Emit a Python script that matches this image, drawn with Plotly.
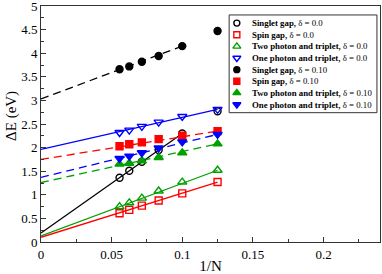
import plotly.graph_objects as go

# ---------------- data ----------------
inv_N = [0.0556, 0.0625, 0.0714, 0.0833, 0.1, 0.125]

singlet_d0 = [1.36, 1.51, 1.70, 1.95, 2.30, 2.77]
spin_d0 = [0.61, 0.68, 0.77, 0.88, 1.03, 1.27]
two_photon_d0 = [0.75, 0.83, 0.93, 1.08, 1.27, 1.52]
one_photon_d0 = [2.32, 2.37, 2.45, 2.54, 2.66, 2.81]

singlet_d10 = [3.66, 3.72, 3.82, 3.94, 4.15, 4.47]
spin_d10 = [2.03, 2.07, 2.11, 2.18, 2.25, 2.35]
two_photon_d10 = [1.65, 1.67, 1.72, 1.79, 1.89, 2.08]
one_photon_d10 = [1.77, 1.82, 1.89, 1.99, 2.12, 2.28]

# extrapolated values at 1/N -> 0
extrap = [0.19, 0.10, 0.13, 1.96, 3.03, 1.75, 1.26, 1.37]
# index of last point included in the extrapolation line
fit_end = [4, 5, 5, 5, 4, 5, 5, 5]

labels = [
    "<b>Singlet gap,</b> δ = 0.0",
    "<b>Spin gap,</b> δ = 0.0",
    "<b>Two photon and triplet,</b> δ = 0.0",
    "<b>One photon and triplet,</b> δ = 0.0",
    "<b>Singlet gap,</b> δ = 0.10",
    "<b>Spin gap,</b> δ = 0.10",
    "<b>Two photon and triplet,</b> δ = 0.10",
    "<b>One photon and triplet,</b> δ = 0.10",
]
series = [singlet_d0, spin_d0, two_photon_d0, one_photon_d0,
          singlet_d10, spin_d10, two_photon_d10, one_photon_d10]

# ---------------- styles ----------------
GREEN = "#00a000"
colors = ["black", "red", GREEN, "blue", "black", "red", GREEN, "blue"]
symbols = ["circle-open", "square-open", "triangle-up-open", "triangle-down-open",
           "circle", "square", "triangle-up", "triangle-down"]
sizes = [7, 7, 8, 8, 7, 7, 8, 8]
dashes = ["solid"] * 4 + ["8px,5px"] * 4
FONT = "Liberation Serif, Times New Roman, serif"

fig = go.Figure()

for i, ys in enumerate(series):
    e = fit_end[i]
    fig.add_trace(go.Scatter(
        x=[0, inv_N[e]], y=[extrap[i], ys[e]], mode="lines",
        line=dict(color=colors[i], width=1.3, dash=dashes[i]),
        showlegend=False, hoverinfo="skip"))

for i, ys in enumerate(series):
    fig.add_trace(go.Scatter(
        x=inv_N, y=ys, mode="markers",
        marker=dict(symbol=symbols[i], size=sizes[i], color=colors[i],
                    line=dict(color=colors[i], width=1.4)),
        showlegend=False))

# ---------------- custom legend (overlay axes) ----------------
rows = list(range(len(labels)))
for i in rows:
    fig.add_trace(go.Scatter(
        x=[7.7], y=[i], xaxis="x2", yaxis="y2", mode="markers",
        marker=dict(symbol=symbols[i], size=sizes[i] - 1, color=colors[i],
                    line=dict(color=colors[i], width=1.4)),
        showlegend=False, hoverinfo="skip"))
    fig.add_annotation(x=21, y=i, xref="x2", yref="y2", text=labels[i],
                       showarrow=False, xanchor="left", yanchor="middle",
                       font=dict(family=FONT, size=8.8, color="black"))

LEG_X = [0.555, 0.991]
LEG_Y = [0.548, 0.962]
fig.add_shape(type="rect", xref="paper", yref="paper",
              x0=LEG_X[0], x1=LEG_X[1], y0=LEG_Y[0], y1=LEG_Y[1],
              line=dict(color="#333", width=1), fillcolor="rgba(0,0,0,0)")

fig.update_layout(
    width=382, height=274,
    margin=dict(l=41, r=2, t=6, b=32, autoexpand=False),
    paper_bgcolor="white", plot_bgcolor="white",
    showlegend=False,
    font=dict(family=FONT, size=13, color="black"),
    xaxis=dict(
        range=[0, 0.24], tickvals=[0, 0.05, 0.1, 0.15, 0.2],
        ticktext=["0", "0.05", "0.1", "0.15", "0.2"],
        ticks="inside", ticklen=5, tickcolor="#333",
        minor=dict(dtick=0.025, ticks="inside", ticklen=3, tickcolor="#333"),
        showline=True, linecolor="#333", linewidth=1, mirror=True,
        showgrid=False, zeroline=False, automargin=False,
        ticklabeloverflow="allow",
        title=dict(text="1/N", font=dict(family=FONT, size=15), standoff=0),
    ),
    yaxis=dict(
        range=[0, 5], dtick=0.5,
        ticks="inside", ticklen=5, tickcolor="#333",
        minor=dict(dtick=0.25, ticks="inside", ticklen=3, tickcolor="#333"),
        showline=True, linecolor="#333", linewidth=1, mirror=True,
        showgrid=False, zeroline=False, automargin=False,
        ticklabeloverflow="allow",
    ),
    xaxis2=dict(domain=LEG_X, range=[0, 148], anchor="y2",
                visible=False, fixedrange=True),
    yaxis2=dict(domain=LEG_Y, range=[7.7, -0.7], anchor="x2",
                visible=False, fixedrange=True),
)

fig.add_annotation(text="ΔE (eV)", xref="paper", yref="paper",
                   x=-0.085, y=0.535, textangle=-90, showarrow=False,
                   xanchor="center", yanchor="middle",
                   font=dict(family=FONT, size=15, color="black"))

fig.write_html("out.html",
               config={"displayModeBar": False},
               post_script="document.body.style.margin='0';")
